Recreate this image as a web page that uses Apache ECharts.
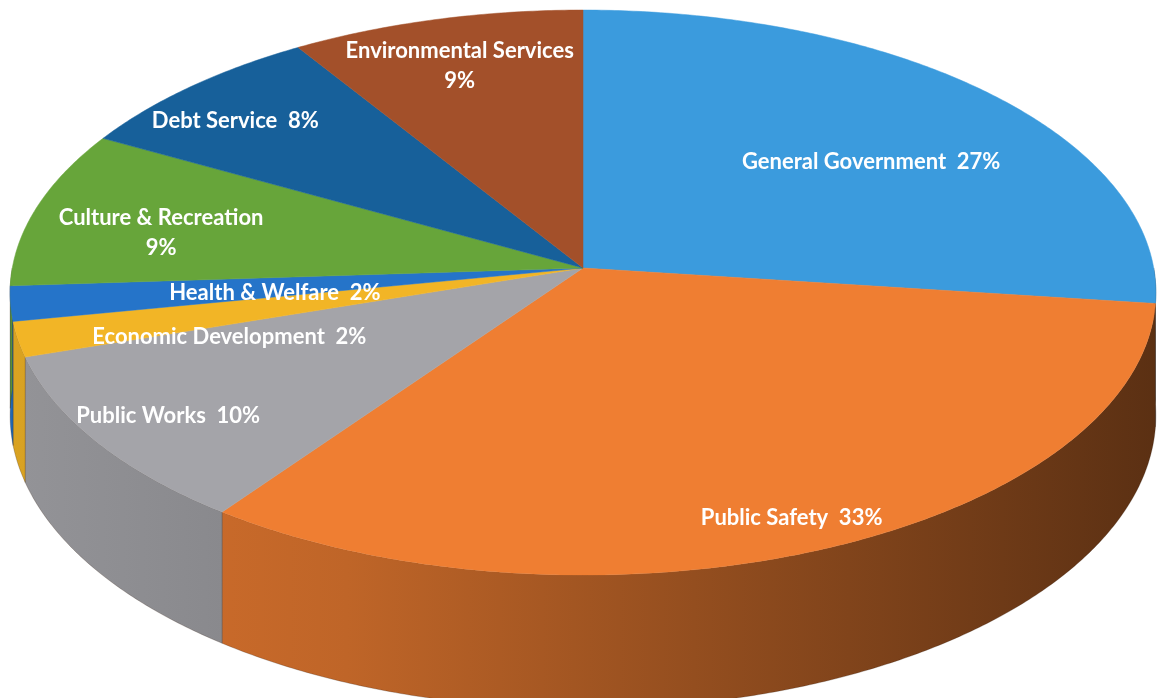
<!DOCTYPE html>
<html>
<head>
<meta charset="utf-8">
<script src="https://cdn.jsdelivr.net/npm/echarts@6/dist/echarts.min.js"></script>
<style>
html,body{margin:0;padding:0;background:#fff;}
#chart{width:1157px;height:698px;}
</style>
</head>
<body>
<div id="chart"></div>
<script>
// ---- data ----
const categories = ['General Government','Public Safety','Public Works','Economic Development','Health & Welfare','Culture & Recreation','Debt Service','Environmental Services'];
const values = [27, 33, 10, 2, 2, 9, 8, 9];
const colors = ['#3b9bdd','#ef7e32','#a4a4a9','#f2b526','#2574c9','#67a53a','#17609a','#a3502a'];
const twoLineLabels = [false, false, false, false, false, true, false, true];
// label placement (fraction of radius, angular nudge in degrees)
const labelRadius = [0.652, 0.894, 0.859, 0.653, 0.543, 0.758, 0.842, 0.802];
const labelShift = [4.6, 1.1, 0, -7.3, -2.2, -3, -2.5, -0.5];

// ---- 3D pie projection (style) ----
const CX = 583, CY = 268, RX = 570.7, RY = 280.4, K = 0.087, DEPTH = 122;
const total = values.reduce((a, b) => a + b, 0);

function proj(thetaDeg, rho, depth) {
  const t = thetaDeg * Math.PI / 180;
  const u = rho * Math.sin(t), v = -rho * Math.cos(t);
  const w = 1 - K * v;
  return [CX + RX * u / w, CY + (RY * v + depth) / w];
}
function shade(hex, f) {
  const n = parseInt(hex.slice(1), 16);
  const r = Math.round(((n >> 16) & 255) * f), g = Math.round(((n >> 8) & 255) * f), b = Math.round((n & 255) * f);
  return 'rgb(' + r + ',' + g + ',' + b + ')';
}
function arc(a, b, rho, depth) {
  const pts = [];
  const steps = Math.max(2, Math.ceil((b - a) / 0.5));
  for (let s = 0; s <= steps; s++) pts.push(proj(a + (b - a) * s / steps, rho, depth));
  return pts;
}

function renderItem(params, api) {
  const i = params.dataIndex;
  let before = 0;
  for (let j = 0; j < i; j++) before += values[j];
  const v = api.value(1);
  const a = before / total * 360;
  const b = (before + v) / total * 360;
  const children = [];
  const col = colors[i];
  // outer wall (front-facing part)
  const wa = Math.max(a, 90), wb = Math.min(b, 270);
  if (wb > wa) {
    const top = arc(wa, wb, 1, 0);
    const bottom = arc(wa, wb, 1, DEPTH).reverse();
    children.push({
      type: 'polygon', z2: 1,
      shape: { points: top.concat(bottom) },
      style: {
        fill: { type: 'linear', x: 0, y: 0, x2: 1157, y2: 0, global: true,
          colorStops: [
            { offset: 0, color: shade(col, 0.9) },
            { offset: 0.3, color: shade(col, 0.8) },
            { offset: 0.6, color: shade(col, 0.62) },
            { offset: 1, color: shade(col, 0.38) }
          ] },
        stroke: 'rgba(40,20,10,0.3)', lineWidth: 0.8
      }
    });
  }
  // top face
  children.push({
    type: 'polygon', z2: 5,
    shape: { points: [proj(0, 0, 0)].concat(arc(a, b, 1, 0)) },
    style: { fill: col, stroke: col, lineWidth: 0.5 }
  });
  // label
  const mid = (a + b) / 2 + labelShift[i];
  const p = proj(mid, labelRadius[i], 0);
  const txt = twoLineLabels[i] ? categories[i] + '\n' + v + '%' : categories[i] + '  ' + v + '%';
  children.push({
    type: 'text', z2: 10,
    x: p[0], y: p[1],
    style: {
      text: txt, fill: '#ffffff',
      font: 'bold 22px Lato, "Open Sans", sans-serif',
      align: 'center', verticalAlign: 'middle', lineHeight: 30
    }
  });
  return { type: 'group', children: children };
}

const chart = echarts.init(document.getElementById('chart'), null, { renderer: 'canvas' });
chart.setOption({
  backgroundColor: '#ffffff',
  animation: false,
  series: [{
    type: 'custom',
    coordinateSystem: 'none',
    renderItem: renderItem,
    data: values.map((v, i) => ({ name: categories[i], value: [i, v] }))
  }]
});
</script>
</body>
</html>
